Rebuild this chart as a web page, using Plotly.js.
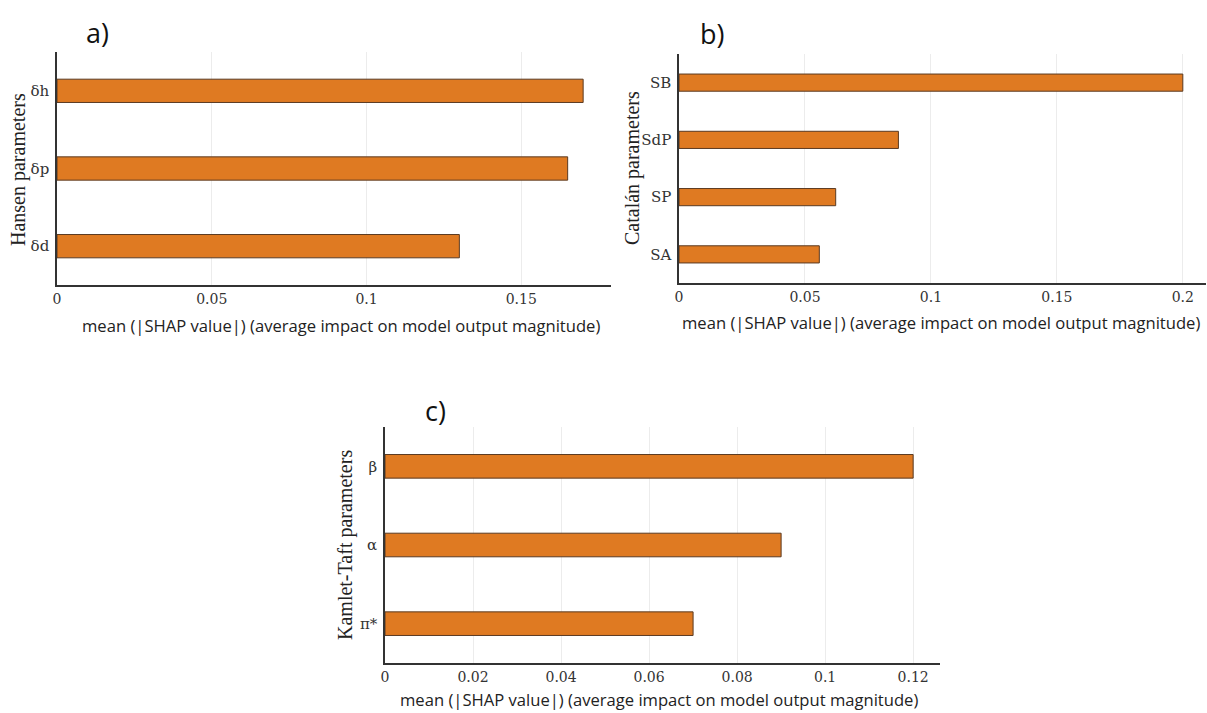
<!DOCTYPE html>
<html>
<head>
<meta charset="utf-8">
<script src="https://cdn.plot.ly/plotly-3.0.1.min.js"></script>
<style>html,body{margin:0;padding:0;background:#fff}#chart{width:1207px;height:713px}</style>
</head>
<body>
<div id="chart"></div>
<script>
// Panel a) Hansen parameters
const hansenLabels = ['δd', 'δp', 'δh'];
const hansenValues = [0.130, 0.165, 0.170];
// Panel b) Catalán parameters
const catalanLabels = ['SA', 'SP', 'SdP', 'SB'];
const catalanValues = [0.0557, 0.0622, 0.0871, 0.200];
// Panel c) Kamlet-Taft parameters
const ktLabels = ['π*', 'α', 'β'];
const ktValues = [0.070, 0.090, 0.120];

const xTickA = [0, 0.05, 0.1, 0.15];
const xTickB = [0, 0.05, 0.1, 0.15, 0.2];
const xTickC = [0, 0.02, 0.04, 0.06, 0.08, 0.1, 0.12];

const xTitle = 'mean (|SHAP value|) (average impact on model output magnitude)';

const barFill = '#df7a22';
const barLine = '#5a3a22';

function barTrace(labels, values, xa, ya) {
  return {
    type: 'bar', orientation: 'h',
    x: values, y: labels,
    xaxis: xa, yaxis: ya,
    width: 0.3,
    marker: {color: barFill, line: {color: barLine, width: 1}},
    hoverinfo: 'x+y', showlegend: false
  };
}

const tickFont = {family: 'DejaVu Serif, Liberation Serif, serif', size: 14, color: '#333'};
const W = 1207, H = 713;
function xAxis(dom, range, ticks, anchor) {
  return {
    domain: [dom[0] / W, dom[1] / W], range: range, anchor: anchor,
    tickvals: ticks, ticktext: ticks.map(String),
    showgrid: true, gridcolor: '#ececec', gridwidth: 1,
    showline: true, linecolor: '#333', linewidth: 1.5,
    zeroline: false, ticks: '', tickfont: tickFont, fixedrange: true
  };
}
function yAxis(dom, labels, anchor) {
  return {
    domain: [1 - dom[1] / H, 1 - dom[0] / H], anchor: anchor,
    type: 'category', categoryorder: 'array', categoryarray: labels,
    range: [-0.5, labels.length - 0.5],
    showgrid: false, showline: true, linecolor: '#333', linewidth: 1.5,
    zeroline: false, ticks: 'outside', ticklen: 3, tickcolor: 'rgba(0,0,0,0)',
    tickfont: {family: 'DejaVu Serif, Liberation Serif, serif', size: 15, color: '#333'},
    fixedrange: true
  };
}

const data = [
  barTrace(hansenLabels, hansenValues, 'x', 'y'),
  barTrace(catalanLabels, catalanValues, 'x2', 'y2'),
  barTrace(ktLabels, ktValues, 'x3', 'y3')
];

const titleFont = {family: 'Open Sans, Noto Sans, sans-serif', size: 16.6, color: '#222'};
const yTitleFont = {family: 'Liberation Serif, DejaVu Serif, serif', size: 20, color: '#222'};
const panelFont = {family: 'Open Sans, Noto Sans, sans-serif', size: 27, color: '#111'};

function ann(text, x, y, font, extra) {
  return Object.assign({text: text, xref: 'paper', yref: 'paper', x: x / W, y: 1 - y / H,
    xanchor: 'center', yanchor: 'middle', showarrow: false, font: font}, extra || {});
}

const layout = {
  width: W, height: H,
  margin: {l: 0, r: 0, t: 0, b: 0},
  paper_bgcolor: '#ffffff', plot_bgcolor: '#ffffff',
  showlegend: false,
  xaxis: xAxis([57, 611], [0, 0.179], xTickA, 'y'),
  yaxis: yAxis([52, 285], hansenLabels, 'x'),
  xaxis2: xAxis([679, 1206], [0, 0.2092], xTickB, 'y2'),
  yaxis2: yAxis([54, 283], catalanLabels, 'x2'),
  xaxis3: xAxis([385, 940], [0, 0.1261], xTickC, 'y3'),
  yaxis3: yAxis([427, 663], ktLabels, 'x3'),
  annotations: [
    ann('a)', 97, 32, panelFont),
    ann('b)', 712, 33, panelFont),
    ann('c)', 435, 410, panelFont),
    ann(xTitle, 341, 325, titleFont),
    ann(xTitle, 941, 322, titleFont),
    ann(xTitle, 659, 699, titleFont),
    ann('Hansen parameters', 18, 170, yTitleFont, {textangle: -90}),
    ann('Catalán parameters', 632, 168, yTitleFont, {textangle: -90}),
    ann('Kamlet-Taft parameters', 345, 545, yTitleFont, {textangle: -90})
  ]
};

Plotly.newPlot('chart', data, layout, {displayModeBar: false});
</script>
</body>
</html>
